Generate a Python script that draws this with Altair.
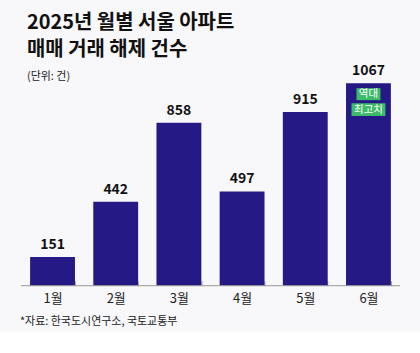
import altair as alt
import pandas as pd

months = ["1월", "2월", "3월", "4월", "5월", "6월"]
counts = [151, 442, 858, 497, 915, 1067]
title_lines = ["2025년 월별 서울 아파트", "매매 거래 해제 건수"]
unit_text = ["(단위: 건)"]
source_text = ["*자료: 한국도시연구소, 국토교통부"]
tag_lines = ["역대", "최고치"]
record_month = "6월"

FONT = "Noto Sans CJK KR"
BAR = "#241985"
GREEN = "#3dbb6a"
W, H = 380, 203

df = pd.DataFrame({"month": months, "count": counts})
rec = pd.DataFrame({"month": [record_month], "tag1": [tag_lines[0]], "tag2": [tag_lines[1]]})
zero = pd.DataFrame({"count": [0]})

xscale = alt.Scale(paddingInner=0.29, paddingOuter=0.145)
x = alt.X("month:N", sort=months, scale=xscale,
          axis=alt.Axis(title=None, labelAngle=0, domain=False,
                        ticks=True, tickBand="extent", tickSize=5, offset=-5,
                        tickColor="#999999", labelPadding=7, labelFontSize=13,
                        labelFont=FONT, labelColor="#222222", grid=False))
y = alt.Y("count:Q", scale=alt.Scale(domain=[0, 1067], nice=False), axis=None)

base = alt.Chart(df)
bars = base.mark_bar(color=BAR).encode(x=x, y=y)
labels = base.mark_text(dy=-5, baseline="bottom", fontWeight="bold", fontSize=14,
                        font=FONT, color="#111111").encode(x=x, y=y, text="count:Q")
baseline = alt.Chart(zero).mark_rule(color="#999999", strokeWidth=1).encode(
    y=y, x=alt.value(0), x2=alt.value(W))

tagbase = alt.Chart(rec)
tag1 = tagbase.mark_bar(color=GREEN, width=24).encode(
    x=x, y=alt.value(5), y2=alt.value(17))
tag2 = tagbase.mark_bar(color=GREEN, width=34).encode(
    x=x, y=alt.value(20), y2=alt.value(33))
tagt1 = tagbase.mark_text(color="white", fontSize=10.5, font=FONT, baseline="middle").encode(
    x=x, y=alt.value(11), text="tag1:N")
tagt2 = tagbase.mark_text(color="white", fontSize=10.5, font=FONT, baseline="middle").encode(
    x=x, y=alt.value(26.5), text="tag2:N")

def txt(s, xp, yp, size, weight="normal", color="#111111"):
    return alt.Chart(pd.DataFrame({"t": [s]})).mark_text(
        align="left", baseline="middle", fontSize=size, fontWeight=weight,
        font=FONT, color=color).encode(x=alt.value(xp), y=alt.value(yp), text="t:N")

t1 = txt(title_lines[0], 6, 21 - 81, 20, "bold")
t2 = txt(title_lines[1], 6, 48 - 81, 20, "bold")
t3 = txt(unit_text[0], 6, 75 - 81, 11, color="#222222")
t4 = txt(source_text[0], -1, 320 - 81, 11, color="#222222")

chart = alt.layer(bars, baseline, labels, tag1, tag2, tagt1, tagt2, t1, t2, t3, t4).properties(
    width=W, height=H,
    padding={"left": 20, "top": 13, "right": 19, "bottom": 5},
    background="#f8f8fa",
).configure_view(strokeWidth=0)

chart.save("out.html", embed_options={"renderer": "svg", "actions": False})
